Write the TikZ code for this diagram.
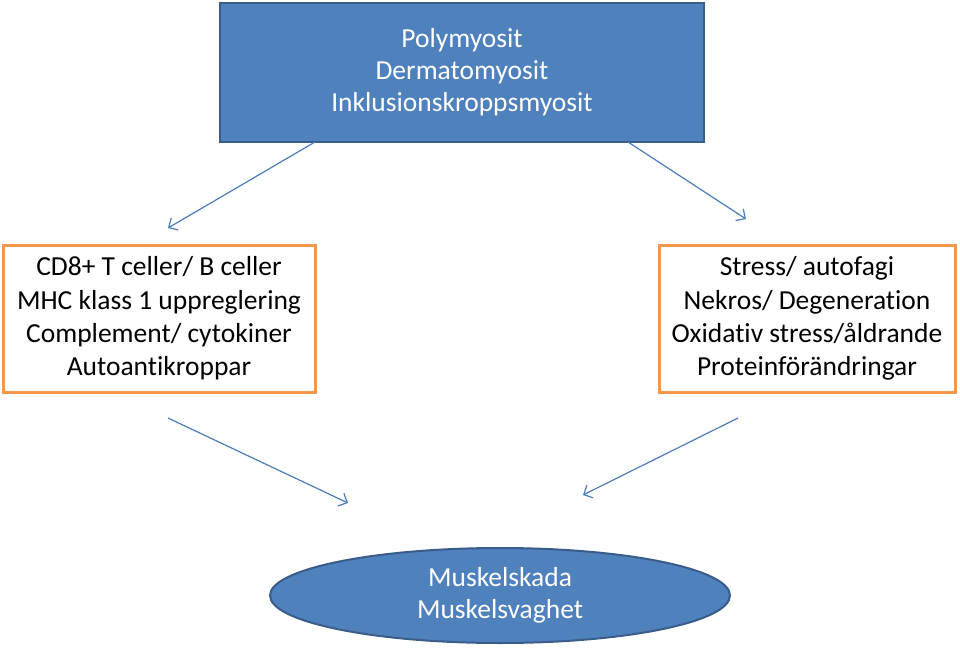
\documentclass[tikz,border=0pt]{standalone}
\usepackage{fontspec}
\setmainfont[Ligatures=NoCommon]{Carlito}
\usetikzlibrary{shapes.geometric,arrows.meta}
\definecolor{accblue}{HTML}{4F81BD}
\definecolor{bordblue}{HTML}{385D8A}
\definecolor{accorange}{HTML}{F79646}
\definecolor{arrblue}{HTML}{4A7EBB}
\tikzset{
  bluebox/.style={draw=bordblue, fill=accblue, line width=2pt, text=white, align=center, font=\fontsize{27.5}{32}\selectfont},
  orangebox/.style={draw=accorange, fill=white, line width=3pt, text=black, align=center, font=\fontsize{27.5}{33.3}\selectfont},
  blueellipse/.style={ellipse, draw=bordblue, fill=accblue, line width=2pt, text=white, align=center, font=\fontsize{27.5}{32}\selectfont, inner sep=0pt},
  conn/.style={draw=arrblue, line width=1.2pt, -{Straight Barb[length=7pt,width=14pt]}}
}
\begin{document}
\begin{tikzpicture}[x=1pt,y=-1pt]
\useasboundingbox (0,0) rectangle (960,650);
\node[bluebox, minimum width=484pt, minimum height=139pt] (top) at (462,72.5) {Polymyosit\\Dermatomyosit\\Inklusionskroppsmyosit};
\node[orangebox, minimum width=312pt, minimum height=147pt] (left) at (159,318.5) {CD8+ T celler/ B celler\\MHC klass 1 uppreglering\\Complement/ cytokiner\\Autoantikroppar};
\node[orangebox, minimum width=296pt, minimum height=147pt] (right) at (807,318.5) {Stress/ autofagi\\Nekros/ Degeneration\\Oxidativ stress/åldrande\\Proteinförändringar};
\node[blueellipse, minimum width=460pt, minimum height=95pt] (bottom) at (500,595.5) {Muskelskada\\Muskelsvaghet};
\coordinate (a1s) at (315,142);
\coordinate (a1e) at (168,228);
\coordinate (a2s) at (628,142);
\coordinate (a2e) at (746,219);
\coordinate (a3s) at (168,418);
\coordinate (a3e) at (348,503);
\coordinate (a4s) at (738,418);
\coordinate (a4e) at (583,495);
\draw[conn] (a1s) -- (a1e);
\draw[conn] (a2s) -- (a2e);
\draw[conn] (a3s) -- (a3e);
\draw[conn] (a4s) -- (a4e);
\end{tikzpicture}
\end{document}
